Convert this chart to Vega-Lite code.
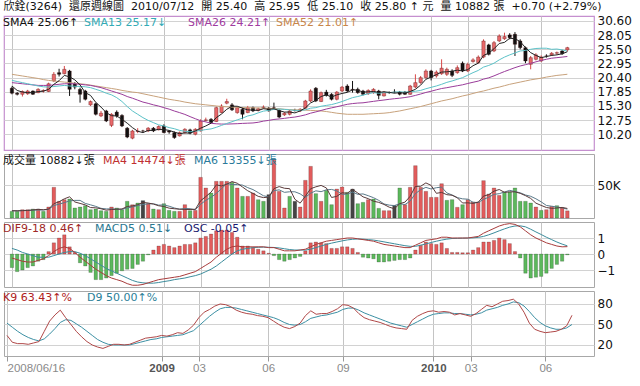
{
"$schema":"https://vega.github.io/schema/vega-lite/v6.json",
"padding":{"left":3,"top":1,"right":0,"bottom":0},
"background":"white",
"title":{"text":"欣銓(3264)\u00a0\u00a0還原週線圖\u00a0\u00a02010/07/12\u00a0\u00a0開 25.40\u00a0\u00a0高 25.95\u00a0\u00a0低 25.10\u00a0\u00a0收 25.80 ↑ 元\u00a0\u00a0量 10882 張\u00a0\u00a0+0.70 (+2.79%)","anchor":"start","frame":"bounds","font":"DejaVu Sans, Noto Sans CJK TC","fontSize":11,"fontWeight":"normal","color":"#111","offset":2},
"config":{"view":{"stroke":"#a8a8a8","strokeWidth":1},"axis":{"labelFont":"DejaVu Sans","labelColor":"#111","labelOverlap":false,"labelSeparation":0},"axisY":{"labelOverlap":false},"axisRight":{"labelOverlap":false},"legend":{"orient":"top-left","direction":"horizontal","offset":1,"padding":0,"symbolSize":0,"symbolStrokeWidth":0,"labelOffset":0,"columnPadding":14,"labelFont":"DejaVu Sans, Noto Sans CJK TC","labelFontSize":11}},
"data":{"values":[
{"w":0,"o":18.5,"h":18.8,"l":17.4,"c":17.6,"s4":18.9,"s13":19.9,"s26":19.5,"s52":21.0,"v":10100,"vc":"g","m4":11000,"m6":11000,"dif":-0.25,"macd":0.35,"osc":-0.85,"kv":34,"dv":52},
{"w":1,"o":17.6,"h":17.8,"l":17.2,"c":17.4,"s4":18.1,"s13":19.7,"s26":19.4,"s52":20.85,"v":10100,"vc":"g","m4":10800,"m6":11000,"dif":-0.35,"macd":0.25,"osc":-1.1,"kv":24,"dv":46},
{"w":2,"o":17.4,"h":18.1,"l":17.0,"c":17.9,"s4":17.8,"s13":19.5,"s26":19.3,"s52":20.7,"v":12600,"vc":"r","m4":11200,"m6":11200,"dif":-0.45,"macd":0.1,"osc":-1.0,"kv":22,"dv":40},
{"w":3,"o":17.5,"h":18.2,"l":17.3,"c":18.0,"s4":17.7,"s13":19.3,"s26":19.2,"s52":20.55,"v":12600,"vc":"r","m4":11350,"m6":11500,"dif":-0.5,"macd":0.0,"osc":-0.85,"kv":22,"dv":35},
{"w":4,"o":18.0,"h":18.1,"l":17.3,"c":17.4,"s4":17.7,"s13":19.1,"s26":19.1,"s52":20.4,"v":13600,"vc":"g","m4":12200,"m6":11800,"dif":-0.5,"macd":-0.1,"osc":-0.75,"kv":21,"dv":31},
{"w":5,"o":17.7,"h":18.5,"l":17.6,"c":18.3,"s4":17.9,"s13":18.9,"s26":19.0,"s52":20.25,"v":13600,"vc":"r","m4":13100,"m6":12100,"dif":-0.4,"macd":-0.2,"osc":-0.45,"kv":23,"dv":28},
{"w":6,"o":18.0,"h":18.3,"l":17.7,"c":18.1,"s4":17.95,"s13":18.75,"s26":19.0,"s52":20.05,"v":10100,"vc":"g","m4":12500,"m6":12100,"dif":-0.3,"macd":-0.2,"osc":-0.35,"kv":25,"dv":26},
{"w":7,"o":17.9,"h":19.5,"l":17.8,"c":19.3,"s4":18.3,"s13":18.7,"s26":19.0,"s52":19.9,"v":16700,"vc":"r","m4":13500,"m6":13200,"dif":-0.1,"macd":-0.2,"osc":0.15,"kv":40,"dv":29},
{"w":8,"o":19.8,"h":21.4,"l":19.6,"c":21.0,"s4":19.2,"s13":18.8,"s26":19.1,"s52":19.8,"v":46500,"vc":"r","m4":21700,"m6":18850,"dif":0.15,"macd":-0.1,"osc":0.7,"kv":55,"dv":36},
{"w":9,"o":21.3,"h":22.0,"l":20.6,"c":21.0,"s4":19.85,"s13":18.9,"s26":19.2,"s52":19.7,"v":25300,"vc":"r","m4":24650,"m6":20970,"dif":0.35,"macd":0.0,"osc":1.0,"kv":64,"dv":44},
{"w":10,"o":21.1,"h":22.5,"l":21.0,"c":21.9,"s4":20.8,"s13":19.0,"s26":19.3,"s52":19.6,"v":27800,"vc":"r","m4":29100,"m6":23300,"dif":0.45,"macd":0.1,"osc":1.2,"kv":71,"dv":53},
{"w":11,"o":21.6,"h":21.8,"l":17.1,"c":18.3,"s4":20.55,"s13":18.9,"s26":19.3,"s52":19.5,"v":28800,"vc":"g","m4":32100,"m6":25900,"dif":0.35,"macd":0.15,"osc":0.45,"kv":60,"dv":57},
{"w":12,"o":19.3,"h":19.6,"l":18.3,"c":18.7,"s4":20.0,"s13":18.84,"s26":19.3,"s52":19.4,"v":15200,"vc":"g","m4":24300,"m6":26700,"dif":0.1,"macd":0.15,"osc":0.1,"kv":50,"dv":56},
{"w":13,"o":18.3,"h":18.6,"l":15.9,"c":17.4,"s4":19.1,"s13":18.82,"s26":19.2,"s52":19.3,"v":16700,"vc":"g","m4":22100,"m6":26700,"dif":-0.2,"macd":0.05,"osc":-0.55,"kv":40,"dv":51},
{"w":14,"o":18.0,"h":18.2,"l":16.3,"c":16.5,"s4":17.7,"s13":18.75,"s26":19.1,"s52":19.2,"v":18700,"vc":"g","m4":19850,"m6":22100,"dif":-0.45,"macd":-0.1,"osc":-0.75,"kv":32,"dv":46},
{"w":15,"o":15.5,"h":16.3,"l":15.3,"c":16.1,"s4":17.2,"s13":18.6,"s26":19.0,"s52":19.05,"v":12600,"vc":"g","m4":15800,"m6":19970,"dif":-0.7,"macd":-0.3,"osc":-1.15,"kv":25,"dv":40},
{"w":16,"o":15.7,"h":15.9,"l":13.6,"c":13.8,"s4":15.95,"s13":18.3,"s26":18.8,"s52":18.9,"v":13600,"vc":"g","m4":15400,"m6":17600,"dif":-0.95,"macd":-0.5,"osc":-1.6,"kv":20,"dv":34},
{"w":17,"o":13.5,"h":14.4,"l":13.3,"c":14.0,"s4":15.1,"s13":18.0,"s26":18.6,"s52":18.75,"v":11100,"vc":"g","m4":14000,"m6":14650,"dif":-1.15,"macd":-0.7,"osc":-1.6,"kv":17,"dv":28},
{"w":18,"o":14.4,"h":14.6,"l":12.4,"c":12.6,"s4":14.1,"s13":17.6,"s26":18.3,"s52":18.6,"v":10100,"vc":"g","m4":11850,"m6":13800,"dif":-1.35,"macd":-0.9,"osc":-1.5,"kv":15,"dv":24},
{"w":19,"o":11.8,"h":14.0,"l":11.5,"c":13.8,"s4":13.55,"s13":17.3,"s26":18.0,"s52":18.45,"v":16700,"vc":"r","m4":12900,"m6":13800,"dif":-1.5,"macd":-1.05,"osc":-1.35,"kv":18,"dv":21},
{"w":20,"o":14.2,"h":14.5,"l":13.2,"c":13.5,"s4":13.5,"s13":16.8,"s26":17.7,"s52":18.3,"v":15200,"vc":"g","m4":13300,"m6":13200,"dif":-1.6,"macd":-1.2,"osc":-1.2,"kv":21,"dv":20},
{"w":21,"o":13.6,"h":13.8,"l":11.5,"c":11.7,"s4":12.9,"s13":16.1,"s26":17.4,"s52":18.1,"v":12600,"vc":"g","m4":13650,"m6":13200,"dif":-1.7,"macd":-1.35,"osc":-1.05,"kv":21,"dv":20},
{"w":22,"o":11.3,"h":11.5,"l":9.5,"c":9.7,"s4":12.2,"s13":15.2,"s26":17.0,"s52":17.95,"v":25300,"vc":"g","m4":17450,"m6":15200,"dif":-1.85,"macd":-1.5,"osc":-0.95,"kv":20,"dv":20},
{"w":23,"o":9.5,"h":11.0,"l":9.3,"c":10.8,"s4":11.4,"s13":14.4,"s26":16.7,"s52":17.8,"v":20200,"vc":"r","m4":18300,"m6":16700,"dif":-1.95,"macd":-1.65,"osc":-0.9,"kv":21,"dv":20},
{"w":24,"o":10.7,"h":11.3,"l":10.4,"c":10.8,"s4":10.75,"s13":13.8,"s26":16.35,"s52":17.7,"v":22700,"vc":"g","m4":20200,"m6":18800,"dif":-1.95,"macd":-1.75,"osc":-0.65,"kv":24,"dv":22},
{"w":25,"o":10.8,"h":11.0,"l":10.5,"c":10.8,"s4":10.5,"s13":13.2,"s26":16.0,"s52":17.5,"v":26300,"vc":"k","m4":23600,"m6":20400,"dif":-1.9,"macd":-1.8,"osc":-0.45,"kv":27,"dv":24},
{"w":26,"o":10.8,"h":11.5,"l":10.6,"c":11.3,"s4":10.9,"s13":12.7,"s26":15.77,"s52":17.3,"v":21700,"vc":"r","m4":22700,"m6":21500,"dif":-1.8,"macd":-1.82,"osc":-0.05,"kv":30,"dv":26},
{"w":27,"o":11.3,"h":11.5,"l":10.6,"c":10.8,"s4":10.9,"s13":12.3,"s26":15.5,"s52":17.1,"v":13600,"vc":"g","m4":21100,"m6":21600,"dif":-1.7,"macd":-1.82,"osc":0.25,"kv":31,"dv":28},
{"w":28,"o":11.0,"h":11.8,"l":10.9,"c":11.6,"s4":11.1,"s13":11.9,"s26":15.28,"s52":16.9,"v":12600,"vc":"r","m4":18550,"m6":19500,"dif":-1.6,"macd":-1.78,"osc":0.5,"kv":32,"dv":29},
{"w":29,"o":11.7,"h":12.0,"l":10.4,"c":10.5,"s4":11.05,"s13":11.7,"s26":14.99,"s52":16.7,"v":21700,"vc":"g","m4":17400,"m6":19800,"dif":-1.55,"macd":-1.72,"osc":0.6,"kv":34,"dv":31},
{"w":30,"o":10.8,"h":10.9,"l":10.3,"c":10.6,"s4":10.9,"s13":11.4,"s26":14.73,"s52":16.5,"v":11600,"vc":"g","m4":14900,"m6":17900,"dif":-1.5,"macd":-1.67,"osc":0.5,"kv":33,"dv":32},
{"w":31,"o":10.5,"h":10.7,"l":9.4,"c":9.6,"s4":10.6,"s13":11.2,"s26":14.39,"s52":16.35,"v":10100,"vc":"g","m4":14000,"m6":15200,"dif":-1.45,"macd":-1.6,"osc":0.4,"kv":35,"dv":33},
{"w":32,"o":9.9,"h":10.7,"l":9.8,"c":10.5,"s4":10.3,"s13":10.9,"s26":14.1,"s52":16.2,"v":10100,"vc":"r","m4":13400,"m6":13300,"dif":-1.4,"macd":-1.55,"osc":0.5,"kv":38,"dv":34},
{"w":33,"o":10.5,"h":11.3,"l":10.3,"c":11.1,"s4":10.45,"s13":10.75,"s26":13.78,"s52":16.0,"v":20200,"vc":"r","m4":13000,"m6":14400,"dif":-1.3,"macd":-1.5,"osc":0.6,"kv":37,"dv":35},
{"w":34,"o":11.0,"h":11.2,"l":10.2,"c":10.4,"s4":10.4,"s13":10.65,"s26":13.38,"s52":15.85,"v":11100,"vc":"g","m4":12900,"m6":14100,"dif":-1.2,"macd":-1.42,"osc":0.6,"kv":42,"dv":38},
{"w":35,"o":10.2,"h":11.3,"l":10.0,"c":11.1,"s4":10.8,"s13":10.76,"s26":13.0,"s52":15.7,"v":11600,"vc":"r","m4":13250,"m6":12450,"dif":-1.1,"macd":-1.35,"osc":0.7,"kv":49,"dv":41},
{"w":36,"o":10.8,"h":12.9,"l":10.7,"c":12.6,"s4":11.3,"s13":10.9,"s26":12.64,"s52":15.6,"v":61600,"vc":"r","m4":26100,"m6":20800,"dif":-0.9,"macd":-1.25,"osc":1.0,"kv":60,"dv":48},
{"w":37,"o":12.7,"h":13.2,"l":12.5,"c":12.8,"s4":11.7,"s13":11.05,"s26":12.43,"s52":15.5,"v":45500,"vc":"r","m4":32450,"m6":26700,"dif":-0.7,"macd":-1.1,"osc":1.1,"kv":68,"dv":55},
{"w":38,"o":12.9,"h":13.1,"l":12.2,"c":12.3,"s4":12.2,"s13":11.17,"s26":12.18,"s52":15.4,"v":37900,"vc":"g","m4":39150,"m6":31300,"dif":-0.5,"macd":-0.95,"osc":1.25,"kv":72,"dv":62},
{"w":39,"o":12.5,"h":15.2,"l":12.4,"c":15.0,"s4":13.2,"s13":11.45,"s26":12.09,"s52":15.3,"v":55600,"vc":"r","m4":50150,"m6":37200,"dif":-0.2,"macd":-0.75,"osc":1.45,"kv":77,"dv":68},
{"w":40,"o":14.1,"h":15.6,"l":14.0,"c":15.3,"s4":13.85,"s13":11.8,"s26":12.04,"s52":15.2,"v":55600,"vc":"r","m4":48650,"m6":44600,"dif":0.05,"macd":-0.5,"osc":1.5,"kv":80,"dv":73},
{"w":41,"o":15.8,"h":16.6,"l":15.6,"c":16.1,"s4":14.7,"s13":12.15,"s26":12.04,"s52":15.15,"v":55600,"vc":"r","m4":51200,"m6":52000,"dif":0.3,"macd":-0.25,"osc":1.5,"kv":79,"dv":75},
{"w":42,"o":15.5,"h":15.8,"l":14.4,"c":14.6,"s4":15.25,"s13":12.46,"s26":12.07,"s52":15.1,"v":54000,"vc":"g","m4":55200,"m6":50700,"dif":0.45,"macd":0.0,"osc":1.35,"kv":76,"dv":75},
{"w":43,"o":14.1,"h":15.2,"l":13.9,"c":15.0,"s4":15.25,"s13":12.8,"s26":12.11,"s52":15.05,"v":45500,"vc":"r","m4":52700,"m6":50700,"dif":0.5,"macd":0.2,"osc":1.05,"kv":71,"dv":74},
{"w":44,"o":14.7,"h":15.0,"l":12.9,"c":13.8,"s4":14.9,"s13":13.1,"s26":12.16,"s52":15.0,"v":32800,"vc":"g","m4":47000,"m6":49850,"dif":0.45,"macd":0.3,"osc":0.5,"kv":68,"dv":72},
{"w":45,"o":14.1,"h":15.3,"l":14.0,"c":15.0,"s4":14.6,"s13":13.5,"s26":12.2,"s52":15.0,"v":32800,"vc":"r","m4":41300,"m6":46050,"dif":0.45,"macd":0.35,"osc":0.5,"kv":66,"dv":70},
{"w":46,"o":15.0,"h":15.2,"l":14.2,"c":14.4,"s4":14.55,"s13":13.7,"s26":12.24,"s52":14.95,"v":37900,"vc":"r","m4":37250,"m6":43100,"dif":0.45,"macd":0.4,"osc":0.4,"kv":65,"dv":68},
{"w":47,"o":14.5,"h":15.0,"l":14.3,"c":14.8,"s4":14.5,"s13":14.06,"s26":12.36,"s52":14.95,"v":27800,"vc":"g","m4":32800,"m6":38500,"dif":0.45,"macd":0.42,"osc":0.3,"kv":63,"dv":66},
{"w":48,"o":15.0,"h":15.4,"l":14.8,"c":15.1,"s4":14.8,"s13":14.37,"s26":12.57,"s52":14.9,"v":25300,"vc":"g","m4":30950,"m6":33700,"dif":0.45,"macd":0.43,"osc":0.2,"kv":62,"dv":64},
{"w":49,"o":14.9,"h":15.1,"l":14.3,"c":14.4,"s4":14.7,"s13":14.5,"s26":12.7,"s52":14.9,"v":35400,"vc":"k","m4":31600,"m6":32000,"dif":0.4,"macd":0.42,"osc":0.05,"kv":60,"dv":62},
{"w":50,"o":15.0,"h":15.9,"l":14.7,"c":15.0,"s4":14.8,"s13":14.68,"s26":12.87,"s52":14.85,"v":89400,"vc":"r","m4":44500,"m6":41400,"dif":0.4,"macd":0.41,"osc":-0.1,"kv":55,"dv":60},
{"w":51,"o":14.5,"h":14.7,"l":13.1,"c":13.3,"s4":14.45,"s13":14.75,"s26":12.96,"s52":14.8,"v":40400,"vc":"r","m4":47600,"m6":42700,"dif":0.3,"macd":0.38,"osc":-0.35,"kv":50,"dv":57},
{"w":52,"o":13.7,"h":14.2,"l":13.5,"c":14.0,"s4":14.2,"s13":14.68,"s26":13.07,"s52":14.7,"v":15200,"vc":"r","m4":45100,"m6":38900,"dif":0.2,"macd":0.33,"osc":-0.45,"kv":46,"dv":53},
{"w":53,"o":13.8,"h":14.6,"l":13.6,"c":14.4,"s4":14.2,"s13":14.6,"s26":13.2,"s52":14.65,"v":32800,"vc":"g","m4":44450,"m6":39750,"dif":0.2,"macd":0.28,"osc":-0.35,"kv":44,"dv":50},
{"w":54,"o":14.5,"h":14.8,"l":14.3,"c":14.5,"s4":14.05,"s13":14.5,"s26":13.3,"s52":14.6,"v":25300,"vc":"k","m4":28400,"m6":39750,"dif":0.2,"macd":0.25,"osc":-0.25,"kv":47,"dv":49},
{"w":55,"o":14.4,"h":14.9,"l":14.2,"c":14.7,"s4":14.4,"s13":14.5,"s26":13.48,"s52":14.6,"v":16700,"vc":"r","m4":22500,"m6":36600,"dif":0.25,"macd":0.25,"osc":-0.15,"kv":52,"dv":50},
{"w":56,"o":14.9,"h":16.4,"l":14.8,"c":16.2,"s4":14.95,"s13":14.6,"s26":13.7,"s52":14.55,"v":57100,"vc":"r","m4":33000,"m6":31250,"dif":0.3,"macd":0.25,"osc":0.2,"kv":63,"dv":54},
{"w":57,"o":16.2,"h":18.3,"l":16.0,"c":18.0,"s4":15.85,"s13":14.9,"s26":14.0,"s52":14.5,"v":78300,"vc":"r","m4":44350,"m6":37600,"dif":0.45,"macd":0.3,"osc":0.7,"kv":70,"dv":59},
{"w":58,"o":18.5,"h":18.7,"l":16.0,"c":16.2,"s4":16.3,"s13":15.0,"s26":14.23,"s52":14.45,"v":36900,"vc":"g","m4":47250,"m6":41200,"dif":0.6,"macd":0.4,"osc":0.75,"kv":65,"dv":61},
{"w":59,"o":16.1,"h":17.9,"l":16.0,"c":17.7,"s4":17.0,"s13":15.25,"s26":14.49,"s52":14.4,"v":25300,"vc":"r","m4":49400,"m6":39900,"dif":0.7,"macd":0.5,"osc":0.7,"kv":66,"dv":63},
{"w":60,"o":17.8,"h":18.2,"l":17.0,"c":17.2,"s4":17.3,"s13":15.4,"s26":14.75,"s52":14.3,"v":41900,"vc":"g","m4":45600,"m6":42700,"dif":0.8,"macd":0.6,"osc":0.65,"kv":66,"dv":64},
{"w":61,"o":17.4,"h":17.6,"l":16.3,"c":16.5,"s4":16.9,"s13":15.55,"s26":14.96,"s52":14.15,"v":20200,"vc":"g","m4":31100,"m6":43300,"dif":0.85,"macd":0.68,"osc":0.35,"kv":69,"dv":66},
{"w":62,"o":16.5,"h":18.0,"l":16.3,"c":17.8,"s4":17.3,"s13":15.8,"s26":15.16,"s52":14.0,"v":43900,"vc":"r","m4":32800,"m6":41100,"dif":0.9,"macd":0.75,"osc":0.35,"kv":73,"dv":68},
{"w":63,"o":18.0,"h":18.9,"l":17.8,"c":18.7,"s4":17.55,"s13":16.1,"s26":15.38,"s52":13.9,"v":47000,"vc":"r","m4":38250,"m6":35900,"dif":0.95,"macd":0.82,"osc":0.45,"kv":79,"dv":72},
{"w":64,"o":18.9,"h":19.2,"l":17.8,"c":18.0,"s4":17.75,"s13":16.45,"s26":15.6,"s52":13.8,"v":38900,"vc":"g","m4":37500,"m6":36200,"dif":1.0,"macd":0.88,"osc":0.45,"kv":78,"dv":74},
{"w":65,"o":18.3,"h":19.8,"l":17.7,"c":18.2,"s4":18.2,"s13":16.8,"s26":15.73,"s52":13.8,"v":43900,"vc":"k","m4":43400,"m6":39300,"dif":1.0,"macd":0.92,"osc":0.35,"kv":74,"dv":74},
{"w":66,"o":18.3,"h":18.6,"l":17.5,"c":17.7,"s4":18.15,"s13":17.0,"s26":15.82,"s52":13.8,"v":21700,"vc":"g","m4":37900,"m6":35900,"dif":0.95,"macd":0.94,"osc":0.1,"kv":66,"dv":71},
{"w":67,"o":18.0,"h":18.2,"l":17.2,"c":17.4,"s4":17.8,"s13":17.25,"s26":15.87,"s52":13.8,"v":23700,"vc":"g","m4":32050,"m6":36500,"dif":0.9,"macd":0.93,"osc":-0.2,"kv":60,"dv":67},
{"w":68,"o":17.5,"h":18.3,"l":17.3,"c":18.1,"s4":17.85,"s13":17.5,"s26":16.0,"s52":13.85,"v":27800,"vc":"r","m4":29300,"m6":33800,"dif":0.85,"macd":0.9,"osc":-0.25,"kv":57,"dv":64},
{"w":69,"o":17.7,"h":18.5,"l":17.5,"c":18.3,"s4":17.9,"s13":17.7,"s26":16.13,"s52":13.9,"v":28800,"vc":"g","m4":25500,"m6":30800,"dif":0.8,"macd":0.87,"osc":-0.3,"kv":55,"dv":61},
{"w":70,"o":18.0,"h":18.2,"l":16.5,"c":17.2,"s4":17.75,"s13":17.6,"s26":16.26,"s52":13.95,"v":14600,"vc":"g","m4":23700,"m6":26750,"dif":0.7,"macd":0.82,"osc":-0.5,"kv":53,"dv":58},
{"w":71,"o":17.1,"h":18.0,"l":17.0,"c":17.8,"s4":17.85,"s13":17.7,"s26":16.37,"s52":14.0,"v":11100,"vc":"r","m4":20600,"m6":21300,"dif":0.6,"macd":0.76,"osc":-0.5,"kv":50,"dv":55},
{"w":72,"o":17.7,"h":17.9,"l":17.5,"c":17.7,"s4":17.75,"s13":17.7,"s26":16.5,"s52":14.1,"v":11100,"vc":"r","m4":16400,"m6":19500,"dif":0.55,"macd":0.7,"osc":-0.45,"kv":47,"dv":52},
{"w":73,"o":17.8,"h":18.3,"l":17.6,"c":17.8,"s4":17.6,"s13":17.8,"s26":16.61,"s52":14.25,"v":19200,"vc":"k","m4":14000,"m6":18800,"dif":0.5,"macd":0.64,"osc":-0.4,"kv":45,"dv":50},
{"w":74,"o":17.8,"h":18.0,"l":17.2,"c":17.4,"s4":17.7,"s13":17.85,"s26":16.7,"s52":14.4,"v":45500,"vc":"g","m4":21700,"m6":21700,"dif":0.45,"macd":0.58,"osc":-0.35,"kv":44,"dv":48},
{"w":75,"o":17.8,"h":18.0,"l":17.3,"c":17.4,"s4":17.6,"s13":17.8,"s26":16.82,"s52":14.6,"v":20200,"vc":"r","m4":24000,"m6":20300,"dif":0.4,"macd":0.52,"osc":-0.35,"kv":43,"dv":46},
{"w":76,"o":17.4,"h":19.1,"l":17.3,"c":18.9,"s4":17.9,"s13":17.85,"s26":16.97,"s52":14.8,"v":46500,"vc":"r","m4":32850,"m6":25600,"dif":0.4,"macd":0.48,"osc":-0.25,"kv":56,"dv":50},
{"w":77,"o":18.7,"h":21.0,"l":18.5,"c":19.5,"s4":18.3,"s13":17.95,"s26":17.2,"s52":15.0,"v":79300,"vc":"r","m4":47900,"m6":37000,"dif":0.55,"macd":0.48,"osc":0.25,"kv":62,"dv":54},
{"w":78,"o":19.5,"h":20.7,"l":19.3,"c":20.4,"s4":19.05,"s13":18.1,"s26":17.45,"s52":15.2,"v":46500,"vc":"r","m4":48100,"m6":42900,"dif":0.7,"macd":0.55,"osc":0.55,"kv":66,"dv":58},
{"w":79,"o":20.4,"h":21.9,"l":20.2,"c":21.6,"s4":20.1,"s13":18.4,"s26":17.73,"s52":15.45,"v":40400,"vc":"r","m4":53200,"m6":46400,"dif":0.85,"macd":0.63,"osc":0.75,"kv":69,"dv":62},
{"w":80,"o":21.6,"h":21.8,"l":19.9,"c":20.4,"s4":20.5,"s13":18.65,"s26":17.95,"s52":15.7,"v":31300,"vc":"r","m4":49400,"m6":44000,"dif":0.9,"macd":0.72,"osc":0.65,"kv":70,"dv":65},
{"w":81,"o":20.7,"h":21.7,"l":20.4,"c":21.4,"s4":20.95,"s13":18.9,"s26":18.21,"s52":15.95,"v":31300,"vc":"r","m4":37400,"m6":45900,"dif":0.95,"macd":0.8,"osc":0.6,"kv":68,"dv":66},
{"w":82,"o":21.1,"h":23.7,"l":20.9,"c":22.1,"s4":21.4,"s13":19.2,"s26":18.44,"s52":16.2,"v":52000,"vc":"r","m4":38750,"m6":46800,"dif":1.05,"macd":0.87,"osc":0.7,"kv":69,"dv":67},
{"w":83,"o":21.0,"h":22.2,"l":20.7,"c":21.9,"s4":21.45,"s13":19.55,"s26":18.59,"s52":16.4,"v":26800,"vc":"g","m4":35350,"m6":38050,"dif":1.05,"macd":0.93,"osc":0.35,"kv":68,"dv":67},
{"w":84,"o":21.6,"h":21.9,"l":20.5,"c":20.8,"s4":21.55,"s13":19.8,"s26":18.77,"s52":16.6,"v":27800,"vc":"g","m4":34500,"m6":34900,"dif":1.0,"macd":0.97,"osc":0.1,"kv":64,"dv":66},
{"w":85,"o":21.3,"h":22.6,"l":21.1,"c":22.2,"s4":21.75,"s13":20.1,"s26":18.94,"s52":16.85,"v":16200,"vc":"r","m4":30700,"m6":30900,"dif":1.0,"macd":0.98,"osc":0.1,"kv":66,"dv":66},
{"w":86,"o":23.0,"h":23.3,"l":21.4,"c":21.6,"s4":21.6,"s13":20.4,"s26":19.11,"s52":17.1,"v":20200,"vc":"g","m4":22750,"m6":29050,"dif":1.0,"macd":0.99,"osc":0.08,"kv":64,"dv":65},
{"w":87,"o":21.6,"h":23.1,"l":21.4,"c":22.8,"s4":21.85,"s13":20.85,"s26":19.35,"s52":17.3,"v":27800,"vc":"r","m4":23000,"m6":28500,"dif":1.0,"macd":1.0,"osc":0.08,"kv":62,"dv":64},
{"w":88,"o":23.3,"h":23.9,"l":23.1,"c":23.6,"s4":22.55,"s13":21.3,"s26":19.57,"s52":17.55,"v":24200,"vc":"r","m4":22100,"m6":23800,"dif":1.05,"macd":1.01,"osc":0.25,"kv":66,"dv":65},
{"w":89,"o":23.1,"h":24.4,"l":22.9,"c":24.1,"s4":23.0,"s13":21.7,"s26":19.78,"s52":17.8,"v":24200,"vc":"r","m4":24100,"m6":23400,"dif":1.1,"macd":1.04,"osc":0.4,"kv":72,"dv":67},
{"w":90,"o":24.1,"h":27.3,"l":23.9,"c":27.0,"s4":24.4,"s13":22.3,"s26":20.13,"s52":18.0,"v":56600,"vc":"r","m4":33200,"m6":28200,"dif":1.3,"macd":1.1,"osc":0.75,"kv":78,"dv":71},
{"w":91,"o":26.3,"h":26.5,"l":24.4,"c":24.6,"s4":24.8,"s13":22.6,"s26":20.37,"s52":18.25,"v":36400,"vc":"r","m4":35350,"m6":31600,"dif":1.45,"macd":1.2,"osc":0.75,"kv":76,"dv":73},
{"w":92,"o":25.2,"h":27.0,"l":25.0,"c":26.7,"s4":25.6,"s13":23.0,"s26":20.72,"s52":18.5,"v":45500,"vc":"r","m4":40700,"m6":35800,"dif":1.6,"macd":1.32,"osc":0.85,"kv":80,"dv":75},
{"w":93,"o":27.0,"h":28.2,"l":26.8,"c":27.9,"s4":26.55,"s13":23.6,"s26":21.12,"s52":18.7,"v":34300,"vc":"r","m4":43200,"m6":36900,"dif":1.75,"macd":1.45,"osc":1.0,"kv":84,"dv":78},
{"w":94,"o":27.4,"h":28.5,"l":27.2,"c":27.8,"s4":26.75,"s13":24.1,"s26":21.5,"s52":18.95,"v":39400,"vc":"g","m4":38900,"m6":39400,"dif":1.85,"macd":1.57,"osc":0.9,"kv":85,"dv":80},
{"w":95,"o":28.1,"h":28.4,"l":27.3,"c":27.6,"s4":27.5,"s13":24.5,"s26":21.85,"s52":19.2,"v":39400,"vc":"g","m4":39650,"m6":41900,"dif":1.9,"macd":1.68,"osc":0.65,"kv":87,"dv":83},
{"w":96,"o":28.2,"h":28.6,"l":24.3,"c":26.4,"s4":27.4,"s13":24.85,"s26":22.2,"s52":19.4,"v":45500,"vc":"g","m4":39650,"m6":40100,"dif":1.85,"macd":1.75,"osc":0.15,"kv":80,"dv":82},
{"w":97,"o":27.0,"h":27.3,"l":25.5,"c":25.8,"s4":26.9,"s13":25.2,"s26":22.5,"s52":19.6,"v":25300,"vc":"g","m4":37400,"m6":38200,"dif":1.7,"macd":1.76,"osc":-0.25,"kv":68,"dv":77},
{"w":98,"o":25.8,"h":26.0,"l":23.0,"c":23.4,"s4":25.8,"s13":25.3,"s26":22.73,"s52":19.8,"v":25300,"vc":"g","m4":33900,"m6":34900,"dif":1.45,"macd":1.7,"osc":-1.2,"kv":52,"dv":69},
{"w":99,"o":22.8,"h":24.3,"l":21.9,"c":24.0,"s4":24.9,"s13":25.5,"s26":22.97,"s52":20.0,"v":22700,"vc":"g","m4":29700,"m6":32900,"dif":1.2,"macd":1.55,"osc":-1.5,"kv":43,"dv":60},
{"w":100,"o":23.7,"h":24.8,"l":23.5,"c":24.5,"s4":24.4,"s13":25.65,"s26":23.25,"s52":20.15,"v":16700,"vc":"r","m4":22500,"m6":29150,"dif":1.0,"macd":1.38,"osc":-1.45,"kv":40,"dv":53},
{"w":101,"o":23.4,"h":24.4,"l":23.2,"c":24.1,"s4":24.0,"s13":25.7,"s26":23.5,"s52":20.3,"v":11600,"vc":"g","m4":19100,"m6":24500,"dif":0.85,"macd":1.22,"osc":-1.4,"kv":38,"dv":48},
{"w":102,"o":24.3,"h":24.6,"l":24.0,"c":24.3,"s4":24.2,"s13":25.7,"s26":23.71,"s52":20.5,"v":12600,"vc":"r","m4":15900,"m6":19000,"dif":0.7,"macd":1.05,"osc":-1.2,"kv":39,"dv":45},
{"w":103,"o":24.5,"h":25.0,"l":24.3,"c":24.8,"s4":24.4,"s13":25.5,"s26":23.9,"s52":20.65,"v":17700,"vc":"r","m4":14650,"m6":17800,"dif":0.6,"macd":0.9,"osc":-0.9,"kv":40,"dv":43},
{"w":104,"o":24.8,"h":25.1,"l":24.5,"c":24.9,"s4":24.5,"s13":25.55,"s26":24.0,"s52":20.8,"v":18700,"vc":"g","m4":15150,"m6":16700,"dif":0.5,"macd":0.75,"osc":-0.65,"kv":43,"dv":43},
{"w":105,"o":25.2,"h":25.4,"l":24.5,"c":24.7,"s4":24.7,"s13":25.4,"s26":24.1,"s52":20.9,"v":15200,"vc":"r","m4":16050,"m6":15400,"dif":0.45,"macd":0.62,"osc":-0.45,"kv":48,"dv":45},
{"w":106,"o":25.4,"h":25.95,"l":25.1,"c":25.8,"s4":25.06,"s13":25.17,"s26":24.21,"s52":21.01,"v":10882,"vc":"r","m4":14474,"m6":13355,"dif":0.46,"macd":0.51,"osc":-0.05,"kv":63.43,"dv":50.0}
]},
"spacing":2,
"resolve":{"scale":{"y":"independent","stroke":"independent","color":"independent"},"legend":{"stroke":"independent"},"axis":{"x":"independent"}},
"vconcat":[
{"width":590,"height":134,"view":{"stroke":"#c58fcf","strokeWidth":1.2},
 "encoding":{"x":{"field":"w","type":"quantitative","scale":{"domain":[-0.56,110.13],"nice":false,"zero":false},"axis":{"values":[0,29,36,49,63,80,87,101],"labels":false,"ticks":false,"domain":false,"grid":true,"gridColor":"#c4c4c4","title":null}}},
 "layer":[
  {"mark":{"type":"rule","strokeWidth":1},"encoding":{"y":{"field":"l","type":"quantitative","title":null,"scale":{"domain":[7.37,31.5],"nice":false,"zero":false},"axis":{"orient":"right","values":[10.2,12.75,15.3,17.85,20.4,22.95,25.5,28.05,30.6],"format":".2f","grid":true,"gridColor":"#d2d2d2","ticks":false,"domain":false,"labelPadding":3,"labelFontSize":12,"labelOverlap":false}},"y2":{"field":"h"},"color":{"condition":{"test":"datum.c > datum.o","value":"#d84848"},"value":"#111111"}}},
  {"mark":{"type":"bar","width":3.4,"stroke":"rgba(60,0,0,0.45)","strokeWidth":0.7},"encoding":{"y":{"field":"o","type":"quantitative","title":null,"axis":{"orient":"right","values":[10.2,12.75,15.3,17.85,20.4,22.95,25.5,28.05,30.6],"format":".2f","grid":true,"gridColor":"#d2d2d2","ticks":false,"domain":false,"labelPadding":3,"labelFontSize":12,"labelOverlap":false}},"y2":{"field":"c"},"color":{"condition":{"test":"datum.c > datum.o","value":"#e8686a"},"value":"#111111"}}},
  {"mark":{"type":"line","strokeWidth":1},"encoding":{"y":{"field":"s52","type":"quantitative","title":null,"axis":{"orient":"right","values":[10.2,12.75,15.3,17.85,20.4,22.95,25.5,28.05,30.6],"format":".2f","grid":true,"gridColor":"#d2d2d2","ticks":false,"domain":false,"labelPadding":3,"labelFontSize":12,"labelOverlap":false}},"stroke":{"datum":"SMA52 21.01↑"}}},
  {"mark":{"type":"line","strokeWidth":1},"encoding":{"y":{"field":"s26","type":"quantitative","title":null,"axis":{"orient":"right","values":[10.2,12.75,15.3,17.85,20.4,22.95,25.5,28.05,30.6],"format":".2f","grid":true,"gridColor":"#d2d2d2","ticks":false,"domain":false,"labelPadding":3,"labelFontSize":12,"labelOverlap":false}},"stroke":{"datum":"SMA26 24.21↑"}}},
  {"mark":{"type":"line","strokeWidth":1},"encoding":{"y":{"field":"s13","type":"quantitative","title":null,"axis":{"orient":"right","values":[10.2,12.75,15.3,17.85,20.4,22.95,25.5,28.05,30.6],"format":".2f","grid":true,"gridColor":"#d2d2d2","ticks":false,"domain":false,"labelPadding":3,"labelFontSize":12,"labelOverlap":false}},"stroke":{"datum":"SMA13 25.17↓\u2800\u2800"}}},
  {"mark":{"type":"line","strokeWidth":1},"encoding":{"y":{"field":"s4","type":"quantitative","title":null,"axis":{"orient":"right","values":[10.2,12.75,15.3,17.85,20.4,22.95,25.5,28.05,30.6],"format":".2f","grid":true,"gridColor":"#d2d2d2","ticks":false,"domain":false,"labelPadding":3,"labelFontSize":12,"labelOverlap":false}},"stroke":{"datum":"SMA4 25.06↑","scale":{"domain":["SMA4 25.06↑","SMA13 25.17↓\u2800\u2800","SMA26 24.21↑","SMA52 21.01↑"],"range":["#222222","#5cc2c8","#9a3c9a","#c8a27c"]},"legend":{"title":null,"symbolSize":0,"symbolStrokeWidth":0,"symbolOpacity":0,"labelOffset":-13,"columnPadding":5,"encode":{"labels":{"update":{"fill":{"signal":"['#111111','#33aab5','#a03ca0','#c8864a'][datum.index]"}}}}}}}}
 ]},
{"width":590,"height":64,
 "encoding":{"x":{"field":"w","type":"quantitative","scale":{"domain":[-0.56,110.13],"nice":false,"zero":false},"axis":{"values":[0,29,36,49,63,80,87,101],"labels":false,"ticks":false,"domain":false,"grid":true,"gridColor":"#c4c4c4","title":null}}},
 "layer":[
  {"mark":{"type":"bar","width":3.6,"stroke":"rgba(0,0,0,0.3)","strokeWidth":0.6},"encoding":{"y":{"field":"v","type":"quantitative","title":null,"scale":{"domain":[0,97000],"nice":false},"axis":{"orient":"right","values":[50000],"labelExpr":"'50K'","grid":true,"gridColor":"#d2d2d2","ticks":false,"domain":false,"labelPadding":3,"labelFontSize":12,"labelOverlap":false}},"color":{"field":"vc","type":"nominal","scale":{"domain":["r","g","k"],"range":["#e25c5c","#5cb85c","#444444"]},"legend":null}}},
  {"mark":{"type":"line","strokeWidth":1},"encoding":{"y":{"field":"m6","type":"quantitative","title":null,"axis":{"orient":"right","values":[50000],"labelExpr":"'50K'","grid":true,"gridColor":"#d2d2d2","ticks":false,"domain":false,"labelPadding":3,"labelFontSize":12,"labelOverlap":false}},"stroke":{"datum":"MA6 13355↓張"}}},
  {"mark":{"type":"line","strokeWidth":1},"encoding":{"y":{"field":"m4","type":"quantitative","title":null,"axis":{"orient":"right","values":[50000],"labelExpr":"'50K'","grid":true,"gridColor":"#d2d2d2","ticks":false,"domain":false,"labelPadding":3,"labelFontSize":12,"labelOverlap":false}},"stroke":{"datum":"MA4 14474↓張","scale":{"domain":["成交量 10882↓張","MA4 14474↓張","MA6 13355↓張"],"range":["#111111","#5a3a3a","#5a7a8a"]},"legend":{"title":null,"symbolSize":0,"symbolStrokeWidth":0,"symbolOpacity":0,"labelOffset":-13,"columnPadding":8,"encode":{"labels":{"update":{"fill":{"signal":"['#111111','#c03030','#2a7a9a'][datum.index]"}}}}}}}}
 ]},
{"width":590,"height":65,
 "encoding":{"x":{"field":"w","type":"quantitative","scale":{"domain":[-0.56,110.13],"nice":false,"zero":false},"axis":{"values":[0,29,36,49,63,80,87,101],"labels":false,"ticks":false,"domain":false,"grid":true,"gridColor":"#c4c4c4","title":null}}},
 "layer":[
  {"mark":{"type":"bar","width":3.4,"stroke":"rgba(0,0,0,0.3)","strokeWidth":0.6},"encoding":{"y":{"field":"osc","type":"quantitative","title":null,"scale":{"domain":[-2.06,2.0],"nice":false,"zero":false},"axis":{"orient":"right","values":[-1,0,1],"grid":true,"gridColor":"#d2d2d2","ticks":false,"domain":false,"labelPadding":3,"labelFontSize":12,"labelOverlap":false}},"color":{"condition":{"test":"datum.osc >= 0","value":"#e25c5c"},"value":"#5cb85c"}}},
  {"mark":{"type":"line","strokeWidth":1,"clip":true},"encoding":{"y":{"field":"macd","type":"quantitative","title":null,"axis":{"orient":"right","values":[-1,0,1],"grid":true,"gridColor":"#d2d2d2","ticks":false,"domain":false,"labelPadding":3,"labelFontSize":12,"labelOverlap":false}},"stroke":{"datum":"MACD5 0.51↓"}}},
  {"mark":{"type":"line","strokeWidth":1,"clip":true},"encoding":{"y":{"field":"dif","type":"quantitative","title":null,"axis":{"orient":"right","values":[-1,0,1],"grid":true,"gridColor":"#d2d2d2","ticks":false,"domain":false,"labelPadding":3,"labelFontSize":12,"labelOverlap":false}},"stroke":{"datum":"DIF9-18 0.46↑","scale":{"domain":["DIF9-18 0.46↑","MACD5 0.51↓","OSC -0.05↑"],"range":["#a83c3c","#3c8c9c","#1a1a70"]},"legend":{"title":null,"symbolSize":0,"symbolStrokeWidth":0,"symbolOpacity":0,"labelOffset":-13,"columnPadding":11,"encode":{"labels":{"update":{"fill":{"signal":"['#a02828','#2a7890','#1a1a70'][datum.index]"}}}}}}}}
 ]},
{"width":590,"height":65,
 "encoding":{"x":{"field":"w","type":"quantitative","scale":{"domain":[-0.56,110.13],"nice":false,"zero":false},"axis":{"values":[0,29,36,49,63,80,87,101],"labelExpr":"datum.value == 0 ? '2008/06/16' : datum.value == 29 ? '2009' : datum.value == 80 ? '2010' : (datum.value == 36 || datum.value == 87) ? '03' : (datum.value == 49 || datum.value == 101) ? '06' : '09'","labelAlign":{"condition":{"test":"datum.value == 0","value":"left"},"value":"center"},"labelFontWeight":{"condition":{"test":"datum.value == 29 || datum.value == 80","value":"bold"},"value":"normal"},"labelColor":{"condition":{"test":"datum.value == 29 || datum.value == 80","value":"#555555"},"value":"#8a8a8a"},"labelFont":"Liberation Sans","labelFontSize":11.5,"labelOverlap":false,"labelFlush":false,"ticks":true,"tickSize":5,"tickColor":"#999999","domain":false,"grid":true,"gridColor":"#c4c4c4","labelPadding":1,"title":null}}},
 "layer":[
  {"mark":{"type":"line","strokeWidth":1},"encoding":{"y":{"field":"dv","type":"quantitative","title":null,"scale":{"domain":[3.9,99],"nice":false,"zero":false},"axis":{"orient":"right","values":[20,50,80],"grid":true,"gridColor":"#d2d2d2","ticks":false,"domain":false,"labelPadding":3,"labelFontSize":12,"labelOverlap":false}},"stroke":{"datum":"D9 50.00↑%"}}},
  {"mark":{"type":"line","strokeWidth":1},"encoding":{"y":{"field":"kv","type":"quantitative","title":null,"axis":{"orient":"right","values":[20,50,80],"grid":true,"gridColor":"#d2d2d2","ticks":false,"domain":false,"labelPadding":3,"labelFontSize":12,"labelOverlap":false}},"stroke":{"datum":"K9 63.43↑%","scale":{"domain":["K9 63.43↑%","D9 50.00↑%"],"range":["#b04848","#3c90a4"]},"legend":{"title":null,"symbolSize":0,"symbolStrokeWidth":0,"symbolOpacity":0,"labelOffset":-13,"columnPadding":15,"encode":{"labels":{"update":{"fill":{"signal":"['#b02020','#2a8098'][datum.index]"}}}}}}}}
 ]}
]
}
